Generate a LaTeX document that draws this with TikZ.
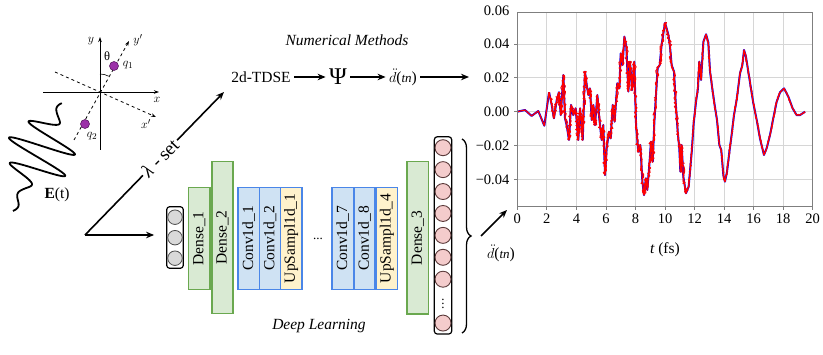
\documentclass[tikz,border=0pt]{standalone}
\usepackage{fontspec}
\setmainfont{Liberation Serif}
\usetikzlibrary{arrows.meta,decorations.pathreplacing,decorations.pathmorphing}
\definecolor{grnB}{HTML}{6AA84F}
\definecolor{grnF}{HTML}{D9EAD3}
\definecolor{bluB}{HTML}{4A86E8}
\definecolor{bluF}{HTML}{CFE2F3}
\definecolor{ylwF}{HTML}{FFF2CC}
\definecolor{pnkF}{HTML}{F4CCCC}
\definecolor{pnkB}{HTML}{5A3A3A}
\definecolor{gryF}{HTML}{D9D9D9}
\definecolor{purp}{HTML}{9B30A8}
\definecolor{gridc}{HTML}{D6D6D6}
\definecolor{framec}{HTML}{7F7F7F}
\newcommand\ptsA{(0,0) (0.52,0.1) (0.97,-0.25) (1.42,0.04) (1.83,-0.83) (2.15,1.15)}
\newcommand\ptsB{(2.15,1.15) (2.33,0.4) (2.48,-0.39) (2.67,0.69) (2.82,1.15) (2.94,-0.2) (3.12,2.17) (3.23,-0.39) (3.34,-0.79) (3.5,-1.67) (3.64,0.4) (3.79,-0.2) (3.95,0.2) (4.13,-1.67) (4.25,0.2) (4.43,-1.67) (4.58,2.37) (4.7,1.58) (4.81,0.99) (4.92,1.38) (5.04,-0.49) (5.15,0.4) (5.26,-0.79) (5.42,0.99) (5.55,-0.39) (5.71,-1.67) (5.82,-0.79) (5.94,-3.75) (6.05,-2.17) (6.21,-1.18) (6.32,-1.58) (6.46,0.4) (6.59,-0.59) (6.77,1.68) (6.91,1.38) (7.0,3.45) (7.13,2.76) (7.25,4.44) (7.38,3.85) (7.52,1.19) (7.63,2.96) (7.77,1.28) (7.92,2.96) (8.04,-0.79) (8.19,-2.37) (8.33,-1.97) (8.47,-4.14) (8.58,-4.93) (8.71,-3.94) (8.8,-4.63) (8.94,-3.15) (9.05,-1.77) (9.17,-2.96) (9.28,-0.59) (9.39,0.99) (9.5,2.57) (9.64,2.76) (9.77,3.95) (9.89,4.64) (10.0,5.25) (10.11,4.93) (10.23,4.54) (10.34,3.85) (10.45,2.76) (10.61,2.37) (10.72,0.59) (10.86,-1.18) (10.97,-2.17) (11.04,-3.55) (11.13,-1.97) (11.24,-3.84) (11.42,-4.83) (11.6,-4.44)}
\newcommand\ptsC{(11.6,-4.44) (11.81,-2.37) (11.94,-0.69) (12.1,0.59) (12.23,1.38) (12.32,2.96) (12.44,1.88) (12.6,4.14) (12.78,4.58) (12.93,4.1) (13.05,2.37) (13.2,1.38) (13.36,0.4) (13.52,-0.49) (13.68,-1.97) (13.81,-2.27) (13.95,-3.75) (14.06,-4.14) (14.2,-3.55) (14.36,-2.37) (14.51,-1.38) (14.67,-0.2) (14.85,0.69) (15.08,2.27) (15.24,2.76) (15.35,3.65) (15.48,3.26) (15.64,2.37) (15.82,1.38) (15.98,0.5) (16.21,-0.49) (16.43,-1.58) (16.7,-2.56) (16.88,-2.17) (17.11,-1.38) (17.33,-0.39) (17.56,0.59) (17.79,1.15) (18.06,1.38) (18.35,0.89) (18.64,0.2) (18.91,-0.2) (19.14,-0.2) (19.48,0)}
\begin{document}
\begin{tikzpicture}[x=1pt,y=-1pt,
  big/.style={font=\fontsize{15.5}{17}\selectfont},
  small/.style={font=\fontsize{12.5}{13}\selectfont},
  ticklbl/.style={font=\fontsize{14.5}{16}\selectfont},
  layer/.style={draw, line width=1.4pt, inner sep=0pt, rotate=90, minimum height=21.3pt, big},
  dense/.style={layer, draw=grnB, fill=grnF},
  conv/.style={layer, draw=bluB, fill=bluF},
  ups/.style={layer, draw=bluB, fill=ylwF},
  arr/.style={-{Stealth[length=8pt,width=6.5pt]}, line width=1.6pt},
  axisln/.style={line width=0.8pt, -{Stealth[length=5pt,width=3.5pt]}},
  incirc/.style={circle, draw=black!70, fill=gryF, minimum size=14.5pt, inner sep=0pt, line width=0.8pt},
  outcirc/.style={circle, draw=pnkB, fill=pnkF, minimum size=16pt, inner sep=0pt, line width=0.9pt},
  charge/.style={circle, fill=purp, draw=purp!60!black, minimum size=9pt, inner sep=0pt, line width=0.6pt}
]
\useasboundingbox (0,0) rectangle (823,355);
\pgfmathsetseed{7}

% ---------------- molecule ----------------
\draw[axisln] (100,150) -- (100,37);
\draw[axisln] (43,92) -- (159,92);
\draw[axisln, dashed] (74,140) -- (129,41);
\draw[axisln, dashed] (55,72) -- (156,117);
\draw[line width=0.6pt] (100,74) arc[start angle=-90, end angle=-61.3, radius=18];
\node[small] (ly) at (91,41) {$y$};
\node[small] (lyp) at (138,40) {$y'$};
\node[small] (lx) at (157,100) {$x$};
\node[small] (lxp) at (146,124) {$x'$};
\node[small] (lth) at (107,56) {θ};
\node[charge] (q1) at (114,66) {};
\node[charge] (q2) at (85,124) {};
\node[small] (lq1) at (128,65) {$q_1$};
\node[small] (lq2) at (92,136) {$q_2$};

% ---------------- laser field ----------------
\draw[line width=1.8pt, line join=round] plot[domain=0:1, samples=400, variable=\s]
  ({13+49*\s + (3+31*exp(0-(((\s-0.55)/0.24)^4)))*0.91*sin(1800*\s)},
   {211-108*\s + (3+31*exp(0-(((\s-0.55)/0.24)^4)))*0.41*sin(1800*\s)});
\node[big] (ef) at (57,195) {\textbf{E}(t)};

% ---------------- lambda set branch ----------------
\coordinate (corner) at (85,235);
\coordinate (tip) at (224,92);
\node[font=\fontsize{19}{20}\selectfont, rotate=45.8, inner sep=2pt] (lam) at (160,157.8) {{\itshape λ}\hspace{5pt}-\hspace{4pt}set};
\draw[line width=1.6pt] (corner) -- (lam);
\draw[arr] (lam) -- (tip);

% ---------------- numerical methods ----------------
\node[big, font=\itshape\fontsize{15.5}{17}\selectfont] (nm) at (347,40) {Numerical Methods};
\node[big] (tdse) at (261,77) {2d-TDSE};
\node[font=\fontsize{24}{26}\selectfont] (psi) at (338,77) {Ψ};
\node[big] (dd) at (403,77) {$\ddot{d}$({\fontsize{13}{13}\selectfont\itshape tn})};
\coordinate (plotin) at (469,77);
\draw[arr] (tdse) -- (psi);
\draw[arr] (psi) -- (dd);
\draw[arr] (dd) -- (plotin);

% ---------------- network ----------------
\node[draw, rounded corners=3pt, line width=1.2pt, minimum width=16.6pt, minimum height=61.6pt, inner sep=0pt] (inp) at (175,237.5) {};
\foreach \k in {0,1,2} \node[incirc] (i\k) at (175,217.2+20.5*\k) {};
\draw[arr, shorten >=12pt] (corner) -- (corner -| inp.west);

\node[dense, minimum width=101.6pt] (d1) at (199.2,238.5) {Dense\_1};
\node[dense, minimum width=151.6pt] (d2) at (222.5,237.5) {Dense\_2};
\node[conv, minimum width=101.8pt] (c1) at (248.8,238.4) {Conv1d\_1};
\node[conv, minimum width=101.8pt] (c2) at (270,238.4) {Conv1d\_2};
\node[ups, minimum width=101.8pt] (u1) at (291.2,238.4) {UpSampl1d\_1};
\node[font=\fontsize{13}{14}\selectfont] (dots) at (318,239) {...};
\node[conv, minimum width=101.8pt] (c7) at (342.8,238.4) {Conv1d\_7};
\node[conv, minimum width=101.8pt] (c8) at (364.5,238.4) {Conv1d\_8};
\node[ups, minimum width=101.8pt] (u4) at (386.8,238.4) {UpSampl1d\_4};
\node[dense, minimum width=152.3pt] (d3) at (417.8,237.9) {Dense\_3};

\node[draw, rounded corners=3pt, line width=1.2pt, minimum width=17.4pt, minimum height=197.3pt, inner sep=0pt] (outp) at (443,235.4) {};
\foreach \k in {0,...,6,8} \node[outcirc] (o\k) at (443,147.7+21.92*\k) {};
\node[font=\fontsize{13}{13}\selectfont] (vd) at (443,147.7+21.92*7) {$\vdots$};

\node[big, font=\itshape\fontsize{15.5}{17}\selectfont] (dl) at (319,326) {Deep Learning};

\coordinate (bt) at (462,139);
\coordinate (bb) at (462,333);
\draw[decorate, decoration={brace, amplitude=9pt}, line width=1.3pt] (bt) -- (bb);
\coordinate (bo) at (481,236);
\coordinate (pt) at (507,210);
\draw[arr] (bo) -- (pt);
\node[big] (dd2) at (501,253) {$\ddot{d}$({\fontsize{13}{13}\selectfont\itshape tn})};

% ---------------- plot ----------------
\begin{scope}[shift={(517.3pt,-111.7pt)}, x=14.77pt, y=16.9pt]
  \foreach \t in {2,4,...,18} \draw[gridc, line width=0.8pt] (\t,-5.621) -- (\t,5.858);
  \foreach \v in {-4,-2,0,2,4} \draw[gridc, line width=0.8pt] (0,\v) -- (20,\v);
  \draw[blue, line width=2pt, line join=round] plot coordinates {\ptsA};
  \draw[blue, line width=2pt, line join=round] plot coordinates {\ptsB};
  \draw[blue, line width=2pt, line join=round] plot coordinates {\ptsC};
  \draw[red, line width=1.2pt, line join=round] plot coordinates {\ptsA};
  \draw[red, line width=1.2pt, line join=round] plot coordinates {\ptsB};
  \draw[red, line width=1.2pt, line join=round] plot coordinates {\ptsC};
  \draw[red, line width=0.9pt, line join=round, decorate, decoration={random steps, segment length=1.6pt, amplitude=1.8pt}] plot coordinates {\ptsB};
  \draw[red, line width=0.7pt, line join=round, decorate, decoration={random steps, segment length=1.6pt, amplitude=0.9pt}] plot coordinates {\ptsC};
  \draw[framec, line width=1pt] (0,-5.621) rectangle (20,5.858);
  \foreach \t in {0,2,...,20} {
    \draw[framec, line width=0.8pt] (\t,-5.621) -- ++(0,-0.2);
    \node[ticklbl, anchor=north] at (\t,-5.85) {\t};
  }
  \foreach \v/\l in {-4/−0.04,-2/−0.02,0/0.00,2/0.02,4/0.04} {
    \draw[framec, line width=0.8pt] (0,\v) -- ++(-0.2,0);
    \node[ticklbl, anchor=east] at (-0.3,\v) {\l};
  }
  \node[ticklbl, anchor=east] at (-0.3,6.0) {0.06};
  \node[big] (tlab) at (10,-8.18) {{\itshape t} (fs)};
\end{scope}
\end{tikzpicture}
\end{document}
